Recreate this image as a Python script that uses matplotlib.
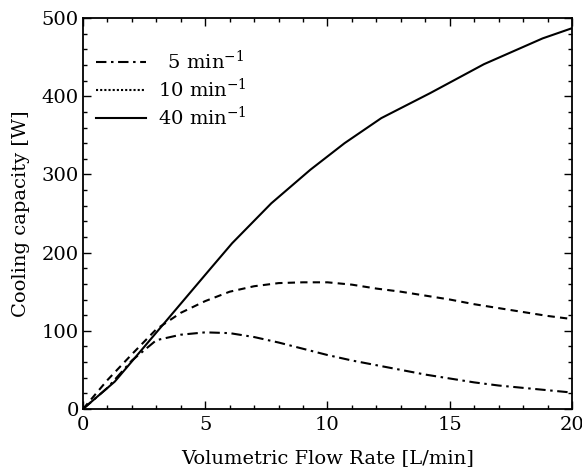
import matplotlib
matplotlib.use("Agg")
import matplotlib.pyplot as plt
from matplotlib.lines import Line2D
from matplotlib.ticker import MultipleLocator

# Volumetric flow rate [L/min]
flow = [0, 1, 2, 3, 4, 5, 6, 7, 8, 9, 10, 11, 12, 13, 14, 15, 16, 17, 18, 19, 20]

# cooling capacity [W] for each rotation speed
cap_5 = [0, 27, 62, 88, 95, 98, 97, 92, 85, 77, 69, 62, 56, 50, 44, 39, 34, 30, 27, 24, 21]
cap_10 = [0, 37, 70, 102, 123, 138, 150, 157, 161, 162, 162, 159, 154, 150, 145, 140, 134,
          129, 124, 119, 115]

flow_40 = [0, 1.3, 2.6, 3.9, 5.2, 6.1, 7.7, 9.3, 10.7, 12.2, 14.2, 16.4, 18.8, 20]
cap_40 = [0, 35, 83, 131, 179, 212, 263, 306, 340, 372, 404, 441, 474, 487]

labels = ["\u20025 min$^{-1}$", "10 min$^{-1}$", "40 min$^{-1}$"]

plt.rcParams["font.family"] = ["DejaVu Serif"]
plt.rcParams["mathtext.fontset"] = "dejavuserif"

fig = plt.figure(figsize=(5.82, 4.75), dpi=100)
ax = fig.add_axes([0.1426, 0.139, 0.8402, 0.823])

dashdot = (0, (5, 2.2, 1.2, 2.2))
dashed = (0, (3.5, 2.5))
ax.plot(flow, cap_5, color="black", lw=1.5, linestyle=dashdot)
ax.plot(flow, cap_10, color="black", lw=1.5, linestyle=dashed)
ax.plot(flow_40, cap_40, color="black", lw=1.5, linestyle="-")

ax.set_xlim(0, 20)
ax.set_ylim(0, 500)
ax.xaxis.set_major_locator(MultipleLocator(5))
ax.xaxis.set_minor_locator(MultipleLocator(1))
ax.yaxis.set_major_locator(MultipleLocator(100))
ax.yaxis.set_minor_locator(MultipleLocator(20))
ax.tick_params(which="both", direction="in", top=True, right=True, labelsize=14, width=1)
ax.tick_params(which="major", length=6, pad=3)
ax.tick_params(axis="x", which="major", pad=5)
ax.tick_params(which="minor", length=3)
for s in ax.spines.values():
    s.set_linewidth(1.3)

ax.set_xlabel("Volumetric Flow Rate [L/min]", fontsize=14, labelpad=11)
ax.set_ylabel("Cooling capacity [W]", fontsize=14, labelpad=8)

# legend shows the 10 min^-1 entry as dotted, like the original figure
handles = [
    Line2D([], [], color="black", lw=1.5, linestyle=dashdot),
    Line2D([], [], color="black", lw=1.5, linestyle=(0, (1, 1))),
    Line2D([], [], color="black", lw=1.5, linestyle="-"),
]
ax.legend(handles, labels, loc="upper left", frameon=False, fontsize=14,
          handlelength=2.6, handletextpad=0.6, labelspacing=0.25,
          borderaxespad=0.0, bbox_to_anchor=(0.01, 0.94))

fig.savefig("out.png", dpi=100)
